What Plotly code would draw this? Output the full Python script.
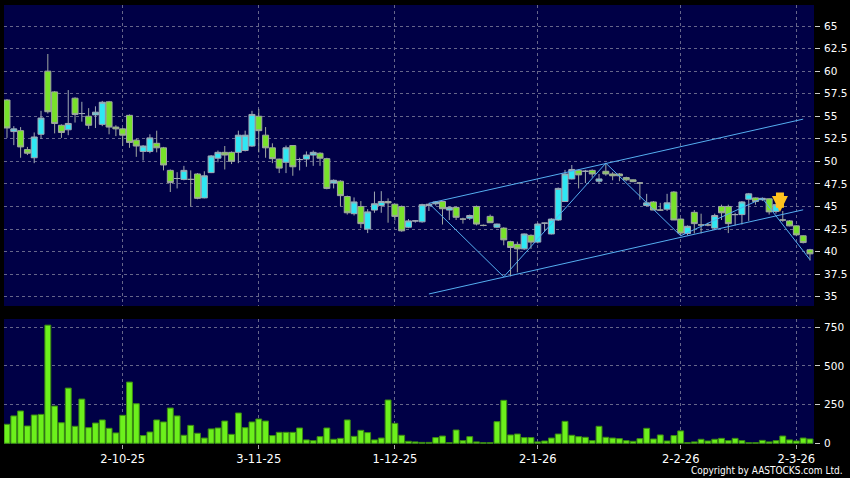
import pandas as pd
import plotly.graph_objects as go

# trading days (HK calendar) shown on the chart
hk_holidays = ["2025-10-01", "2025-10-07", "2025-10-29", "2025-12-25", "2025-12-26",
               "2026-01-01", "2026-02-17", "2026-02-18", "2026-02-19"]
days = [d for d in pd.bdate_range("2025-09-08", "2026-03-04").strftime("%Y-%m-%d")
        if d not in hk_holidays]
idx = list(range(len(days)))

tick_dates = ["2025-10-02", "2025-11-03", "2025-12-01", "2026-01-02", "2026-02-02", "2026-03-02"]
tick_text = ["2-10-25", "3-11-25", "1-12-25", "2-1-26", "2-2-26", "2-3-26"]

open_ = [56.8, 53.3, 53.4, 51.3, 50.4, 53.0, 60.0, 57.7, 54.0, 53.5,
         57.0, 55.3, 55.0, 55.15, 54.1, 56.6, 53.8, 53.6, 55.1, 52.35,
         51.1, 51.1, 52.0, 51.5, 49.0, 48.1, 48.0, 48.0, 48.6, 45.95,
         48.75, 50.35, 51.0, 51.0, 51.0, 51.2, 51.7, 55.0, 52.9, 51.5,
         50.25, 49.9, 51.75, 50.2, 50.25, 50.7, 50.9, 50.3, 47.6, 47.8,
         46.1, 44.2, 45.0, 42.5, 44.6, 45.1, 45.55, 45.25, 45.0, 42.7,
         43.4, 43.3, 45.1, 45.3, 45.55, 44.6, 44.9, 43.6, 43.7, 45.0,
         42.9, 43.9, 42.7, 42.6, 41.1, 40.8, 40.3, 41.8, 41.05, 43.15,
         41.95, 43.5, 45.55, 48.05, 49.0, 48.9, 49.0, 47.8, 48.9, 48.6,
         48.6, 48.2, 47.95, 47.6, 45.1, 45.5, 44.6, 44.7, 46.6, 43.6,
         42.0, 44.35, 42.95, 42.95, 42.6, 45.0, 45.0, 44.1, 44.1, 45.8,
         45.95, 45.75, 45.85, 44.45, 43.5, 43.4, 42.85, 41.75, 40.2]
high = [56.9, 53.9, 53.8, 51.6, 53.2, 55.6, 61.9, 57.8, 54.1, 57.9,
        57.1, 56.6, 55.9, 56.1, 56.7, 56.7, 54.0, 53.7, 55.2, 52.5,
        51.8, 53.0, 53.4, 51.6, 49.1, 48.8, 49.5, 49.0, 48.7, 48.9,
        50.7, 51.2, 51.7, 51.1, 53.4, 53.4, 55.6, 55.8, 53.8, 52.0,
        50.3, 51.75, 51.8, 50.4, 51.1, 51.2, 51.0, 50.4, 48.0, 47.9,
        46.2, 46.0, 45.6, 44.7, 46.65, 46.7, 45.9, 45.3, 45.1, 43.6,
        43.5, 45.3, 45.35, 45.6, 45.6, 45.0, 45.0, 43.75, 44.1, 45.1,
        43.0, 44.1, 43.1, 42.7, 41.2, 41.1, 42.0, 41.9, 43.2, 43.2,
        43.7, 47.1, 49.05, 49.6, 49.1, 49.05, 49.1, 48.6, 49.8, 48.8,
        48.7, 48.3, 48.0, 47.7, 46.4, 45.6, 45.4, 46.4, 46.7, 43.7,
        42.9, 44.6, 44.2, 43.2, 44.2, 45.2, 45.2, 44.3, 45.6, 46.5,
        46.0, 46.0, 45.9, 45.3, 44.5, 43.5, 42.9, 41.8, 40.3]
low = [52.6, 51.8, 50.4, 50.7, 49.8, 52.5, 55.3, 53.1, 52.6, 52.9,
       54.3, 54.4, 53.6, 53.7, 53.9, 53.0, 52.8, 51.7, 51.5, 50.5,
       50.1, 50.9, 51.0, 49.0, 46.6, 47.0, 47.9, 45.0, 45.8, 45.9,
       48.7, 49.9, 49.1, 49.7, 49.8, 51.1, 51.6, 51.0, 50.4, 49.8,
       48.7, 48.7, 48.4, 49.0, 49.4, 49.5, 49.5, 46.9, 47.0, 45.0,
       44.1, 44.0, 42.6, 42.05, 44.3, 44.3, 43.2, 43.45, 42.2, 42.6,
       43.2, 43.2, 44.5, 45.1, 43.0, 43.5, 43.5, 43.1, 43.5, 42.9,
       42.8, 43.2, 42.6, 40.7, 37.25, 37.7, 40.2, 40.3, 40.9, 42.2,
       41.9, 43.4, 45.5, 48.0, 47.0, 47.6, 48.2, 47.5, 48.4, 47.9,
       47.8, 47.8, 47.7, 45.75, 45.0, 44.6, 44.5, 44.5, 43.5, 41.85,
       41.8, 42.0, 42.0, 42.8, 42.4, 43.5, 42.05, 42.9, 43.0, 43.4,
       45.2, 45.6, 44.1, 44.2, 43.3, 42.8, 41.7, 40.9, 39.0]
close = [53.7, 53.6, 51.6, 50.9, 52.7, 54.8, 55.5, 54.2, 53.2, 54.2,
         55.2, 55.3, 54.0, 55.45, 56.55, 53.8, 53.6, 52.9, 52.1, 51.7,
         51.7, 52.6, 51.5, 49.6, 47.65, 48.1, 49.0, 48.0, 45.9, 48.4,
         50.6, 51.0, 50.7, 50.0, 52.9, 52.9, 55.2, 53.4, 51.5, 50.3,
         49.25, 51.5, 49.4, 50.2, 50.7, 51.0, 50.35, 47.0, 47.9, 46.2,
         44.3, 45.5, 43.1, 44.4, 45.3, 45.55, 45.4, 43.9, 42.3, 43.4,
         43.4, 45.2, 45.25, 45.5, 44.75, 44.9, 43.8, 43.6, 44.0, 43.05,
         42.9, 43.2, 43.05, 41.3, 40.45, 40.3, 41.95, 41.05, 43.05, 43.15,
         43.6, 47.0, 48.6, 49.1, 48.5, 48.9, 48.6, 48.05, 48.6, 48.4,
         48.4, 47.95, 47.75, 47.6, 45.4, 44.6, 44.6, 45.4, 43.5, 42.05,
         42.8, 43.1, 42.95, 42.95, 44.0, 44.3, 43.1, 44.1, 45.5, 46.4,
         45.55, 45.9, 44.4, 45.2, 43.5, 42.85, 41.85, 41.0, 39.75]
volume = [123, 177, 209, 112, 183, 187, 764, 241, 133, 357,
          110, 286, 101, 131, 151, 97, 67, 181, 396, 256,
          50, 73, 151, 138, 228, 177, 52, 116, 65, 34,
          93, 99, 144, 58, 196, 101, 138, 157, 144, 50,
          71, 71, 71, 99, 22, 17, 43, 99, 26, 32,
          151, 45, 84, 69, 22, 34, 280, 129, 52, 13,
          9, 6, 6, 37, 47, 4, 86, 17, 43, 9,
          4, 4, 140, 278, 54, 60, 37, 37, 9, 15,
          34, 60, 142, 52, 43, 39, 17, 110, 39, 34,
          30, 17, 13, 30, 97, 28, 54, 15, 50, 80,
          4, 9, 26, 15, 26, 32, 17, 32, 17, 4,
          4, 19, 9, 17, 47, 22, 15, 34, 28]

# hand drawn lines on the chart
channel_dates = ["2025-12-08", "2026-03-03"]
channel_upper = [45.35, 54.68]
channel_lower = [35.3, 44.63]
zigzag_dates = ["2025-12-08", "2025-12-23", "2026-01-16", "2026-02-02", "2026-02-23", "2026-03-04"]
zigzag_price = [45.35, 37.2, 49.8, 41.75, 45.9, 39.1]
signal_date = "2026-02-25"
signal_price = 44.4

price_ticks = [35, 37.5, 40, 42.5, 45, 47.5, 50, 52.5, 55, 57.5, 60, 62.5, 65]
vol_ticks = [0, 250, 500, 750]

navy = "#000046"
grid = "#66668a"
line_blue = "#55aef0"

fig = go.Figure()
fig.add_trace(go.Candlestick(
    x=idx, open=open_, high=high, low=low, close=close,
    xaxis="x", yaxis="y", whiskerwidth=0, hoverinfo="skip", showlegend=False,
    increasing=dict(fillcolor="#2ee8f4", line=dict(color="#a0aab4", width=1)),
    decreasing=dict(fillcolor="#78e22a", line=dict(color="#a0a8a0", width=1)),
))

ch_x = [days.index(d) for d in channel_dates]
fig.add_trace(go.Scatter(x=ch_x, y=channel_upper, mode="lines", xaxis="x", yaxis="y",
                         line=dict(color=line_blue, width=1), showlegend=False, hoverinfo="skip"))
fig.add_trace(go.Scatter(x=ch_x, y=channel_lower, mode="lines", xaxis="x", yaxis="y",
                         line=dict(color=line_blue, width=1), showlegend=False, hoverinfo="skip"))
fig.add_trace(go.Scatter(x=[days.index(d) for d in zigzag_dates], y=zigzag_price, mode="lines",
                         xaxis="x", yaxis="y", line=dict(color=line_blue, width=1),
                         showlegend=False, hoverinfo="skip"))

fig.add_trace(go.Bar(x=idx, y=volume, xaxis="x2", yaxis="y2", width=0.86,
                     marker=dict(color="#6cf01c", line=dict(color="#3c8c12", width=1)),
                     showlegend=False, hoverinfo="skip"))

# yellow signal arrow
fig.add_annotation(x=days.index(signal_date), y=signal_price, xref="x", yref="y",
                   text=" ", showarrow=True, ax=0, ay=-28, xshift=4,
                   arrowhead=2, arrowsize=0.4, arrowwidth=8, arrowcolor="#ffc21f", standoff=0)

fig.add_annotation(x=1.038, y=-0.06, xref="paper", yref="paper", xanchor="right", yanchor="middle",
                   text="Copyright by AASTOCKS.com Ltd.", showarrow=False,
                   font=dict(family="DejaVu Sans Condensed, DejaVu Sans", size=10, color="#ffffff"))

xr = [-0.44, 118.59]
tv = [days.index(d) for d in tick_dates]
axis_font = dict(family="DejaVu Sans", size=10.5, color="#ffffff")

fig.update_layout(
    width=850, height=478,
    margin=dict(l=4, r=36, t=5, b=34),
    paper_bgcolor="#000000", plot_bgcolor=navy,
    font=dict(family="DejaVu Sans", color="#ffffff"),
    boxgap=0.12, boxgroupgap=0, bargap=0.1,
    xaxis=dict(domain=[0, 1], anchor="y", range=xr, tickvals=tv, showticklabels=False,
               showgrid=True, gridcolor=grid, griddash="3px,3px", gridwidth=1,
               zeroline=False, ticks="", rangeslider=dict(visible=False)),
    xaxis2=dict(domain=[0, 1], anchor="y2", matches="x", range=xr, tickvals=tv, ticktext=tick_text,
                showgrid=True, gridcolor=grid, griddash="3px,3px", gridwidth=1, zeroline=False,
                ticks="outside", ticklen=4, tickcolor="#aaaaaa",
                tickfont=dict(family="DejaVu Sans", size=11.5, color="#ffffff")),
    yaxis=dict(domain=[0.3144, 1], anchor="x", side="right", range=[33.97, 67.33],
               tickvals=price_ticks, showgrid=True, gridcolor=grid, griddash="3px,3px",
               zeroline=False, ticks="outside", ticklen=5, tickcolor="#cccccc",
               ticklabelstandoff=2, tickfont=axis_font),
    yaxis2=dict(domain=[0, 0.2847], anchor="x2", side="right", range=[-4.5, 803.7],
                tickvals=vol_ticks, showgrid=True, gridcolor=grid, griddash="3px,3px",
                zeroline=False, ticks="outside", ticklen=5, tickcolor="#cccccc",
                ticklabelstandoff=2, tickfont=axis_font),
)

fig.write_html("out.html", config={"displayModeBar": False},
               post_script="document.body.style.margin='0';")
